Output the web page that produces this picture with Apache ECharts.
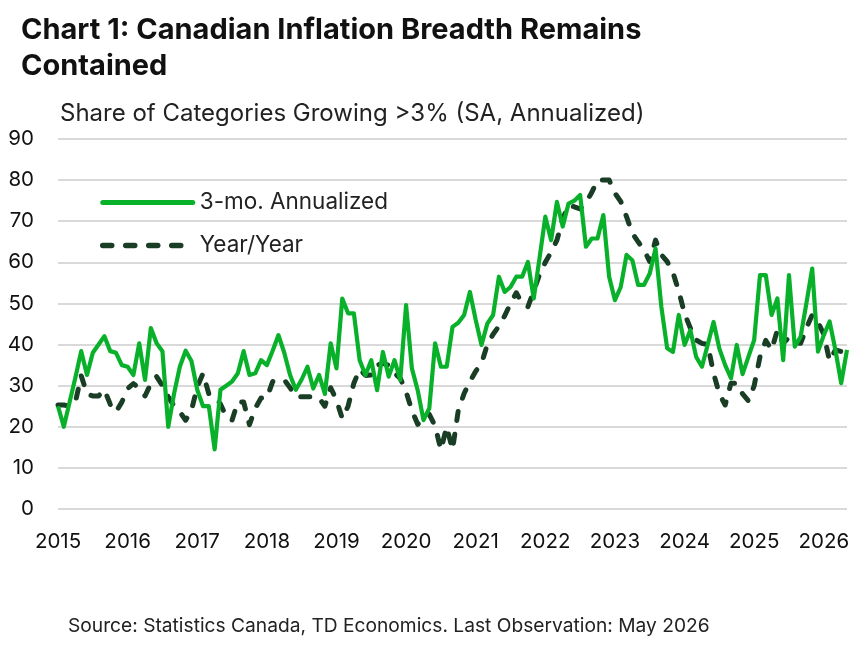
<!DOCTYPE html>
<html>
<head>
<meta charset="utf-8">
<script src="https://cdn.jsdelivr.net/npm/echarts@6/dist/echarts.min.js"></script>
<style>
  html, body { margin: 0; padding: 0; background: #ffffff; }
  #chart { width: 868px; height: 648px; }
</style>
</head>
<body>
<div id="chart"></div>
<script>
// Years shown on the x axis (each January)
const years = ['2015','2016','2017','2018','2019','2020','2021','2022','2023','2024','2025','2026'];

// Monthly share of categories growing >3% — 3-month annualized (Jan 2015 – May 2026)
const threeMo = [
  25, 20, 26, 32, 38.4, 32.6, 38, 40, 42, 38.4, 38, 35,          // 2015
  34.6, 32.6, 40.3, 31.4, 44, 40.3, 38.4, 20, 28, 34.6, 38.5, 36, // 2016
  29, 25, 25, 14.5, 29, 30, 31, 33, 38.4, 32.6, 33, 36.2,        // 2017
  35, 38.5, 42.3, 38, 32.6, 29, 31.5, 34.6, 29.3, 32.6, 28, 40.3, // 2018
  34.2, 51.2, 47.6, 47.6, 36.2, 32.6, 36.2, 28.9, 38.2, 32.2, 36.2, 31.4, // 2019
  49.6, 34.2, 28.9, 21.6, 24.5, 40.3, 34.6, 34.6, 44.3, 45.3, 47.2, 52.8, // 2020
  46, 39.9, 45.1, 47.2, 56.5, 52.8, 54, 56.5, 56.5, 60.1, 51.2, 61, // 2021
  71.1, 65.4, 74.7, 68.7, 74.3, 75, 76.4, 63.8, 65.8, 65.8, 71.5, 56.5, // 2022
  50.8, 54, 61.8, 60.5, 54.5, 54.5, 57.3, 63.4, 49.2, 39.1, 38.2, 47.2, // 2023
  39.9, 43.5, 37, 34.6, 40, 45.5, 39, 35, 31.8, 39.9, 32.8, 37,   // 2024
  41.1, 56.9, 56.9, 47.2, 51.2, 36.2, 56.9, 39.5, 41.9, 50, 58.5, 38.3, // 2025
  42.3, 45.6, 38.7, 30.6, 38.7                                    // 2026
];

// Monthly share of categories growing >3% — year over year
const yoy = [
  25.3, 25.3, 25, 26, 32.4, 28, 27.5, 27.5, 29, 25.5, 23.6, 26,   // 2015
  29.3, 30.5, 29.4, 27.5, 30.5, 32.2, 30, 27.3, 25, 23.6, 21.6, 24, // 2016
  29.7, 33, 28, 27.3, 25.5, 22.5, 21.6, 26.1, 26, 20.5, 24.5, 27, // 2017
  27, 31, 31, 31.4, 29.5, 27.3, 27.3, 27.3, 27.3, 27, 25, 29.5,   // 2018
  26.5, 22, 25, 30.6, 34, 32.5, 32.6, 35, 35.4, 35, 33, 31.8,     // 2019
  28.5, 24, 20.6, 21.8, 23, 20.2, 14.4, 20, 14.4, 24, 28.1, 31,   // 2020
  33.5, 35.4, 40, 42.5, 44.5, 47, 50, 52.6, 50, 49.2, 53, 57,     // 2021
  60, 62.5, 65.4, 70.5, 74, 73.5, 73, 74.5, 77, 80, 80, 80,       // 2022
  76.8, 74.8, 71.1, 67.1, 65, 63, 60.2, 65.4, 61.8, 60.2, 57.5, 53, // 2023
  47.5, 44, 41.1, 40.3, 40, 33, 28, 25.3, 30.6, 30.6, 28, 26.3,   // 2024
  30, 37, 41, 38.7, 43.5, 40.3, 41.7, 40.5, 40.3, 44, 47.2, 45.4, // 2025
  42.5, 36, 38.7, 38.3, 38.3                                      // 2026
];

// Category labels: one per month
const months = [];
for (let i = 0; i < threeMo.length; i++) {
  const y = 2015 + Math.floor(i / 12);
  const m = (i % 12) + 1;
  months.push(y + '-' + (m < 10 ? '0' + m : m));
}

const seriesNames = ['3-mo. Annualized', 'Year/Year'];
const yTicks = { min: 0, max: 90, interval: 10 };

const GREEN = '#09b12b';
const DARK = '#1a3d25';
const DASH = [9, 14];

const FONT = 'Inter, "Open Sans", sans-serif';
const chart = echarts.init(document.getElementById('chart'), null, { renderer: 'canvas' });

chart.setOption({
  backgroundColor: '#ffffff',
  animation: false,
  textStyle: { fontFamily: FONT },
  title: [
    {
      text: 'Chart 1: Canadian Inflation Breadth Remains\nContained',
      left: 16, top: 7,
      textStyle: { fontSize: 29, fontWeight: 'bold', color: '#111111', lineHeight: 36, fontFamily: FONT }
    },
    {
      text: 'Share of Categories Growing >3% (SA, Annualized)',
      left: 55, top: 97,
      textStyle: { fontSize: 24, fontWeight: 'normal', color: '#222222', fontFamily: FONT }
    },
    {
      text: 'Source: Statistics Canada, TD Economics. Last Observation: May 2026',
      left: 63, top: 612,
      textStyle: { fontSize: 19.2, fontWeight: 'normal', color: '#222222', fontFamily: FONT }
    }
  ],
  legend: {
    orient: 'vertical',
    left: 95, top: 186,
    itemWidth: 90, itemHeight: 14,
    itemGap: 20,
    itemStyle: { opacity: 0 },
    textStyle: { fontSize: 22.5, color: '#222222', fontFamily: FONT, padding: [0, 0, 0, 2] },
    data: [
      { name: seriesNames[0], itemStyle: { opacity: 0 }, lineStyle: { color: GREEN, width: 5, cap: 'round' } },
      { name: seriesNames[1], itemStyle: { opacity: 0 }, lineStyle: { color: DARK, width: 5.5, type: DASH, cap: 'round' } }
    ]
  },
  grid: { left: 58, right: 21, top: 139, bottom: 139, containLabel: false },
  xAxis: {
    type: 'category',
    data: months,
    boundaryGap: false,
    axisLine: { show: false },
    axisTick: { show: false },
    splitLine: { show: false },
    axisLabel: {
      interval: function (idx) { return idx % 12 === 0; },
      formatter: function (v) { return v.slice(0, 4); },
      fontSize: 20.5, color: '#111111', margin: 22, fontFamily: FONT
    }
  },
  yAxis: {
    type: 'value',
    min: yTicks.min, max: yTicks.max, interval: yTicks.interval,
    axisLine: { show: false },
    axisTick: { show: false },
    axisLabel: { fontSize: 20.5, color: '#111111', margin: 24, fontFamily: FONT },
    splitLine: { lineStyle: { color: '#d9d9d9', width: 2 } }
  },
  series: [
    {
      name: seriesNames[0],
      type: 'line',
      data: threeMo,
      symbol: 'none',
      lineStyle: { color: GREEN, width: 4.2, join: 'round' },
      itemStyle: { color: GREEN },
      z: 3
    },
    {
      name: seriesNames[1],
      type: 'line',
      data: yoy,
      symbol: 'none',
      lineStyle: { color: DARK, width: 5, type: DASH, cap: 'round', join: 'round' },
      itemStyle: { color: DARK },
      z: 2
    }
  ]
});
</script>
</body>
</html>
